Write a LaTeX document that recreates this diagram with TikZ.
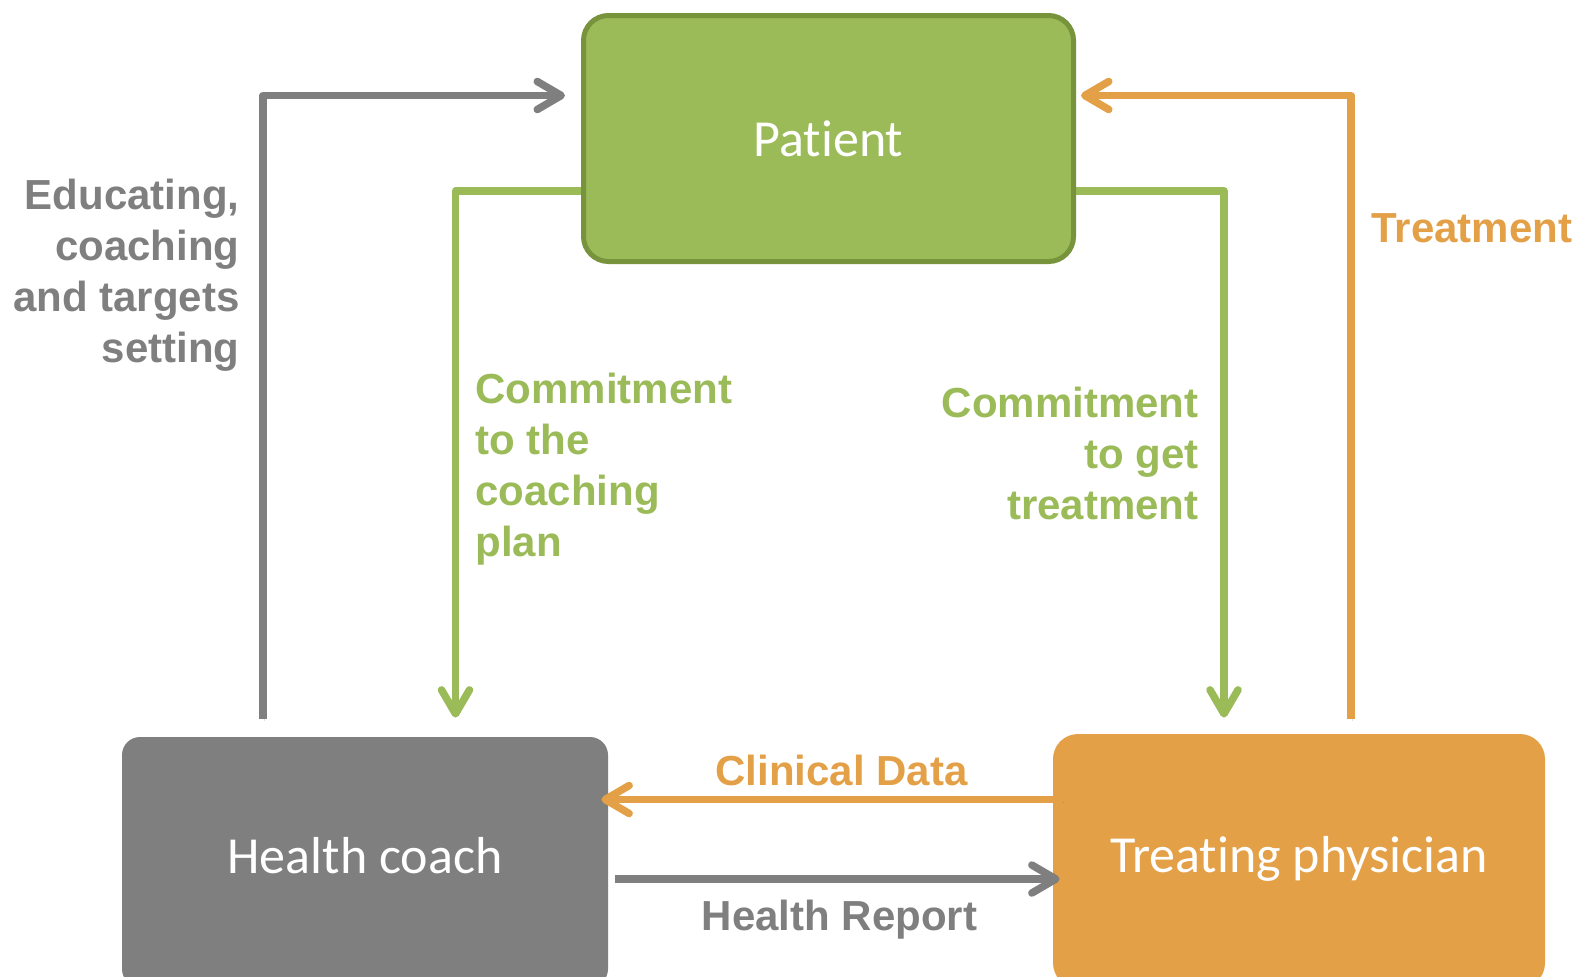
\documentclass[tikz,border=0pt]{standalone}
\usepackage{fontspec}
\setmainfont{Liberation Sans}
\newfontfamily\boxfont[Ligatures={NoCommon,NoRequired,NoContextual}]{Carlito}
\usetikzlibrary{arrows.meta,calc}
\definecolor{cgray}{HTML}{7F7F7F}
\definecolor{cgreen}{HTML}{9BBB59}
\definecolor{cgreendark}{HTML}{77933C}
\definecolor{corange}{HTML}{E3A046}
% keeps "t" and "i" as separate glyphs
\newcommand{\splitti}{\kern0pt }

\begin{document}
\begin{tikzpicture}[x=0.5pt,y=-0.5pt,
  box/.style={rounded corners=12.5pt, inner sep=0pt, text depth=0pt, text=white,
    font=\boxfont\fontsize{26pt}{30pt}\selectfont},
  conn/.style={line width=3.75pt, line join=round,
    -{Straight Barb[length=12pt,width=14pt,round]},
    preaction={draw=black, draw opacity=0.12,
      transform canvas={shift={(0.7pt,-1.3pt)}}}},
  lbl/.style={inner sep=0pt, font=\bfseries\fontsize{21pt}{25.5pt}\selectfont}
]
\clip (0,0) rectangle (1577,976);
\fill[white] (0,0) rectangle (1577,976);

% routing columns and rows of the connectors
\coordinate (gcol) at (263,0);
\coordinate (ocol) at (1351,0);
\coordinate (lcol) at (455.5,0);
\coordinate (rcol) at (1224,0);
\coordinate (toprow) at (0,95.5);
\coordinate (midrow) at (0,191);
\coordinate (cdrow) at (0,799.5);
\coordinate (hrrow) at (0,879);

% lower boxes (they run past the lower edge)
\node[box, fill=cgray, minimum width=243pt, minimum height=125pt, rounded corners=9pt,
  text depth=7pt] (hc) at (365,862) {Health coach};
\node[box, fill=corange, minimum width=246pt, minimum height=127pt, text depth=7pt]
  (tp) at (1299,861) {Treat\splitti ing physician};

% connectors
\draw[conn, draw=cgray] ([yshift=9pt]hc.north -| gcol) |- ([xshift=-9.25pt]toprow -| 583.5,0);
\draw[conn, draw=corange] ([yshift=7.5pt]tp.north -| ocol) |- ([xshift=3.75pt]toprow -| 1073.5,0);
\draw[conn, draw=cgreen] ([xshift=-1pt]midrow -| 583.5,0) -| ([yshift=9.5pt]hc.north -| lcol);
\draw[conn, draw=cgreen] ([xshift=1pt]midrow -| 1073.5,0) -| ([yshift=8pt]tp.north -| rcol);
\draw[conn, draw=corange] ([xshift=5pt]tp.west |- cdrow) -- ([xshift=-3.5pt]hc.east |- cdrow);
\draw[conn, draw=cgray] ([xshift=3.5pt]hc.east |- hrrow) -- ([xshift=3.5pt]tp.west |- hrrow);

% top box
\node[box, fill=cgreen, draw=cgreendark, line width=2.5pt, minimum width=245pt, minimum height=123pt]
  (pat) at (828.5,138.5) {Pat\splitti ient};

% labels (multi-line ones are placed by the baseline of their last line)
\node[lbl, text=cgray, align=right, anchor=base east] (edu) at (240,362)
  {Educating,\\coaching\\and targets\\setting};
\node[lbl, text=cgreen, align=left, anchor=base west] (ctp) at (475,556)
  {Commitment\\to the\\coaching\\plan};
\node[lbl, text=cgreen, align=right, anchor=base east] (cgt) at (1199,519)
  {Commitment\\to get\\treatment};
\node[lbl, text=corange, anchor=base west] (trt) at (1371,242) {Treatment};
\node[lbl, text=corange, anchor=base] (cd) at (841.5,785) {Clinical Data};
\node[lbl, text=cgray, anchor=base] (hr) at (839.5,930) {Health Report};
\end{tikzpicture}
\end{document}
